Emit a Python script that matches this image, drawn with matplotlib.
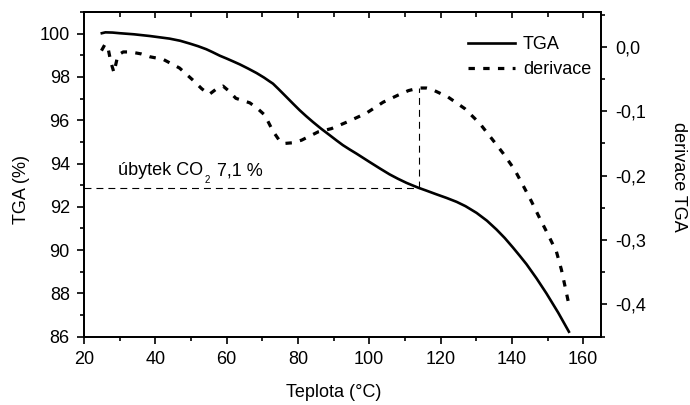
import matplotlib
matplotlib.use("Agg")
import matplotlib.pyplot as plt
from matplotlib.ticker import MultipleLocator, FixedLocator, FixedFormatter

plt.rcParams['font.family'] = ['Liberation Sans', 'DejaVu Sans']
plt.rcParams['lines.scale_dashes'] = False

# ---- data ----
tga_T = [25, 26, 28, 30, 34, 38.5, 44, 47, 49.7, 52, 54.3, 56, 58.1, 60, 61.8,
         63.7, 66, 68.4, 70.5, 72, 73, 74.5, 76.8, 78.6, 80.5, 82.3, 84.2, 86.5,
         88.9, 90.8, 92.6, 94.5, 96.4, 100.1, 103, 105.7, 108, 110.4, 112, 113.8,
         116, 118.8, 121.7, 124.5, 127, 130.1, 133, 135.7, 138, 140.3, 142.2,
         144.1, 146.9, 149.7, 153, 156]
tga_val = [100.02, 100.06, 100.05, 100.02, 99.97, 99.89, 99.77, 99.67, 99.54,
           99.42, 99.28, 99.15, 98.98, 98.85, 98.72, 98.58, 98.39, 98.18, 97.97,
           97.80, 97.69, 97.45, 97.07, 96.77, 96.46, 96.19, 95.92, 95.61, 95.31,
           95.07, 94.85, 94.65, 94.46, 94.07, 93.77, 93.50, 93.30, 93.11, 93.00,
           92.88, 92.75, 92.58, 92.41, 92.23, 92.03, 91.72, 91.36, 90.95, 90.56,
           90.12, 89.74, 89.35, 88.70, 88.00, 87.11, 86.23]

der_T = [24.9, 25.8, 26.6, 27.5, 28.4, 29.5, 31, 33, 36, 38.5, 42.2, 46.8, 50.6,
         53, 55.1, 57, 59, 60.5, 62.6, 66.5, 68.5, 70.7, 73, 75, 76.3, 78.5, 81,
         85.7, 89.4, 94.1, 99.2, 103.9, 108.1, 111, 113.9, 116, 117.5, 122.1,
         126.8, 131, 134.7, 137.5, 140.8, 143.6, 145.5, 147.8, 150.2, 152.5,
         153.9, 154.8, 155.8, 156.1]
der_val = [-0.006, 0.003, 0.002, -0.023, -0.040, -0.013, -0.008, -0.008, -0.011,
           -0.0155, -0.0195, -0.033, -0.052, -0.065, -0.074, -0.066, -0.061,
           -0.068, -0.080, -0.087, -0.095, -0.106, -0.131, -0.147, -0.150, -0.149,
           -0.145, -0.132, -0.127, -0.116, -0.103, -0.086, -0.075, -0.068, -0.064,
           -0.064, -0.066, -0.078, -0.096, -0.119, -0.145, -0.165, -0.191, -0.220,
           -0.240, -0.266, -0.292, -0.318, -0.346, -0.369, -0.395, -0.405]

x_ticks = [20, 40, 60, 80, 100, 120, 140, 160]
y_ticks = [86, 88, 90, 92, 94, 96, 98, 100]
d_ticks = [0.0, -0.1, -0.2, -0.3, -0.4]
d_labels = ["0,0", "-0,1", "-0,2", "-0,3", "-0,4"]

loss_T = 113.9
loss_level = 92.85
peak_level = 97.5

FS = 13

# ---- figure ----
fig = plt.figure(figsize=(6.9, 4.05), dpi=100)
ax = fig.add_axes([84/690, 1-336.7/405, (601-84)/690, (336.7-12)/405])
ax2 = ax.twinx()

l1, = ax.plot(tga_T, tga_val, color='black', lw=1.9, label='TGA', zorder=3,
              solid_joinstyle='round')
l2, = ax2.plot(der_T, der_val, color='black', lw=2.3, dashes=(4.6, 6.0),
               label='derivace')

ax.plot([20, loss_T], [loss_level, loss_level], color='black', lw=0.8,
        dashes=(5.0, 3.6))
ax.plot([loss_T, loss_T], [loss_level, peak_level], color='black', lw=0.8,
        dashes=(5.0, 3.6))

t1 = ax.text(29.5, 93.45, 'úbytek CO', fontsize=FS, ha='left', va='baseline')
t2 = ax.annotate('2', xy=(1, 0), xycoords=t1, xytext=(1.2, -2.3),
                 textcoords='offset points', fontsize=7, ha='left', va='baseline')
t3 = ax.annotate('7,1 %', xy=(1, 0), xycoords=(t2, t1), xytext=(5.0, 2.8),
                 textcoords='offset points', fontsize=FS, ha='left', va='baseline')

ax.set_xlim(20, 165)
ax.set_ylim(86, 101)
ax2.set_ylim(-0.45, 0.054)

ax.xaxis.set_major_locator(FixedLocator(x_ticks))
ax.xaxis.set_minor_locator(MultipleLocator(10))
ax.yaxis.set_major_locator(FixedLocator(y_ticks))
ax.yaxis.set_minor_locator(MultipleLocator(1))
ax2.yaxis.set_major_locator(FixedLocator(d_ticks))
ax2.yaxis.set_major_formatter(FixedFormatter(d_labels))
ax2.yaxis.set_minor_locator(MultipleLocator(0.05))

for a in (ax, ax2):
    for s in a.spines.values():
        s.set_linewidth(1.3)
ax.tick_params(axis='x', which='both', direction='out', top=False, labelsize=FS,
               width=1.2, pad=5.5)
ax.tick_params(axis='x', which='major', length=4.8)
ax.tick_params(axis='x', which='minor', length=3.2)
ax.tick_params(axis='y', which='both', direction='out', labelsize=FS, width=1.2,
               pad=5)
ax.tick_params(axis='y', which='major', length=5.2)
ax.tick_params(axis='y', which='minor', length=3.2)
ax2.tick_params(axis='y', which='both', direction='out', labelsize=FS, width=1.2,
                pad=5.5)
ax2.tick_params(axis='y', which='major', length=4.5)
ax2.tick_params(axis='y', which='minor', length=3.2)

# top ticks inward, no labels
sec = ax.secondary_xaxis('top')
sec.xaxis.set_major_locator(FixedLocator(x_ticks))
sec.xaxis.set_minor_locator(MultipleLocator(10))
sec.tick_params(axis='x', which='both', direction='in', labeltop=False, width=1.2)
sec.tick_params(axis='x', which='major', length=4.5)
sec.tick_params(axis='x', which='minor', length=3.5)
sec.spines['top'].set_linewidth(1.3)

ax.set_xlabel('Teplota (°C)', fontsize=FS)
ax.xaxis.set_label_coords((333.5-84)/517, -0.1447)
ax.set_ylabel('TGA (%)', fontsize=FS)
ax.yaxis.set_label_coords(-0.104, (336.7-190)/324.7)
ax2.set_ylabel('derivace TGA', fontsize=FS, rotation=270, va='center')
ax2.yaxis.set_label_coords(1.150, (336.7-177)/324.7)

leg = ax.legend([l1, l2], ['TGA', 'derivace'], loc='upper left',
                bbox_to_anchor=(468/690, 1-36/405), bbox_transform=fig.transFigure,
                frameon=False, fontsize=FS, handlelength=2.6, handletextpad=0.45,
                borderpad=0, borderaxespad=0, labelspacing=0.47)

fig.savefig('out.png', dpi=100)
